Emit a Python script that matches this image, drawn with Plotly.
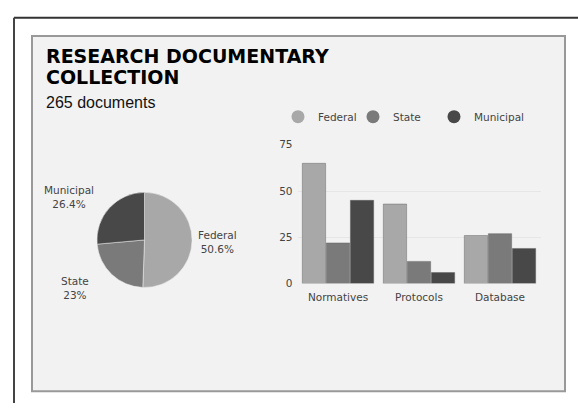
import plotly.graph_objects as go

W, H = 578, 409

# ---- data ----
title_line1 = "RESEARCH DOCUMENTARY"
title_line2 = "COLLECTION"
subtitle = "265 documents"

levels = ["Federal", "State", "Municipal"]
pie_values = [134, 61, 70]
pie_pct_labels = ["50.6%", "23%", "26.4%"]

categories = ["Normatives", "Protocols", "Database"]
federal_vals = [65, 43, 26]
state_vals = [22, 12, 27]
municipal_vals = [45, 6, 19]

colors = ["#a8a8a8", "#7a7a7a", "#484848"]
text_color = "#444444"
label_font = "DejaVu Sans"


def px(x):
    return x / W


def py(y):
    return 1 - y / H


fig = go.Figure()

# Pie
fig.add_trace(go.Pie(
    labels=levels, values=pie_values, sort=False, direction="clockwise",
    rotation=0, marker=dict(colors=colors, line=dict(color="#f2f2f2", width=0.5)),
    textinfo="none", hoverinfo="label+percent", showlegend=False,
    domain=dict(x=[px(95), px(194)], y=[py(290), py(192)]),
))

# Bars
bar_series = [federal_vals, state_vals, municipal_vals]
for name, vals, col in zip(levels, bar_series, colors):
    fig.add_trace(go.Bar(
        x=categories, y=vals, name=name,
        marker=dict(color=col, line=dict(color="#555555", width=0.4)),
        showlegend=False, xaxis="x", yaxis="y",
    ))

# Legend-only circle markers, one legend per entry
legend_ids = ["legend", "legend2", "legend3"]
for name, col, lid in zip(levels, colors, legend_ids):
    fig.add_trace(go.Scatter(
        x=[None], y=[None], mode="markers", name=name,
        marker=dict(symbol="circle", size=13, color=col),
        xaxis="x", yaxis="y", showlegend=True, legend=lid,
    ))

# Pie labels as annotations (text from data)
pie_label_pos = {"Federal": (217, 243), "State": (75, 291), "Municipal": (69, 197)}
annotations = []
for lab, pct in zip(levels, pie_pct_labels):
    x0, y0 = pie_label_pos[lab]
    annotations.append(dict(
        x=px(x0), y=py(y0), xref="paper", yref="paper", showarrow=False,
        text=f"{lab}<br>{pct}", align="center", xanchor="center", yanchor="middle",
        font=dict(family=label_font, size=10.5, color=text_color),
    ))

annotations += [
    dict(x=px(44), y=py(51), xref="paper", yref="paper", showarrow=False,
         text=f"<b>{title_line1}</b>", xanchor="left", yanchor="middle",
         font=dict(family="DejaVu Sans", size=19, color="#000000")),
    dict(x=px(44), y=py(73.5), xref="paper", yref="paper", showarrow=False,
         text=f"<b>{title_line2}</b>", xanchor="left", yanchor="middle",
         font=dict(family="DejaVu Sans", size=19, color="#000000")),
    dict(x=px(44), y=py(99.5), xref="paper", yref="paper", showarrow=False,
         text=subtitle, xanchor="left", yanchor="middle",
         font=dict(family="Liberation Sans", size=16, color="#111111")),
]

shapes = [
    # outer frame lines
    dict(type="line", xref="paper", yref="paper", x0=px(14), x1=1, y0=py(12), y1=py(12),
         line=dict(color="#333333", width=2), layer="below"),
    dict(type="line", xref="paper", yref="paper", x0=px(14), x1=px(14), y0=py(12), y1=0,
         line=dict(color="#444444", width=2), layer="below"),
    # inner panel
    dict(type="rect", xref="paper", yref="paper", x0=px(32), x1=px(565), y0=py(397), y1=py(31),
         fillcolor="#f2f2f2", line=dict(color="#999999", width=2), layer="below"),
]

legend_common = dict(orientation="h", xanchor="left", yanchor="middle",
                     bgcolor="rgba(0,0,0,0)",
                     font=dict(family=label_font, size=10.5, color=text_color),
                     itemclick=False, itemdoubleclick=False)

fig.update_layout(
    width=W, height=H, margin=dict(l=0, r=0, t=0, b=0),
    paper_bgcolor="#ffffff", plot_bgcolor="rgba(0,0,0,0)",
    barmode="group", bargap=0.11, bargroupgap=0.03,
    annotations=annotations, shapes=shapes,
    xaxis=dict(domain=[px(297.5), px(540.5)], showgrid=False, showline=False, zeroline=False,
               ticks="", ticklabelstandoff=6,
               tickfont=dict(family=label_font, size=10.5, color=text_color),
               fixedrange=True),
    yaxis=dict(domain=[py(286), py(143)], range=[0, 75], tickvals=[0, 25, 50, 75],
               showgrid=True, gridcolor="#e6e6e6", gridwidth=1, zeroline=False, showline=False,
               ticks="", ticklabelstandoff=4,
               tickfont=dict(family=label_font, size=10.5, color=text_color), fixedrange=True),
    legend=dict(x=px(278), y=py(114), **legend_common),
    legend2=dict(x=px(353), y=py(114), **legend_common),
    legend3=dict(x=px(434), y=py(114), **legend_common),
    showlegend=True,
)

fig.write_html("out.html")
